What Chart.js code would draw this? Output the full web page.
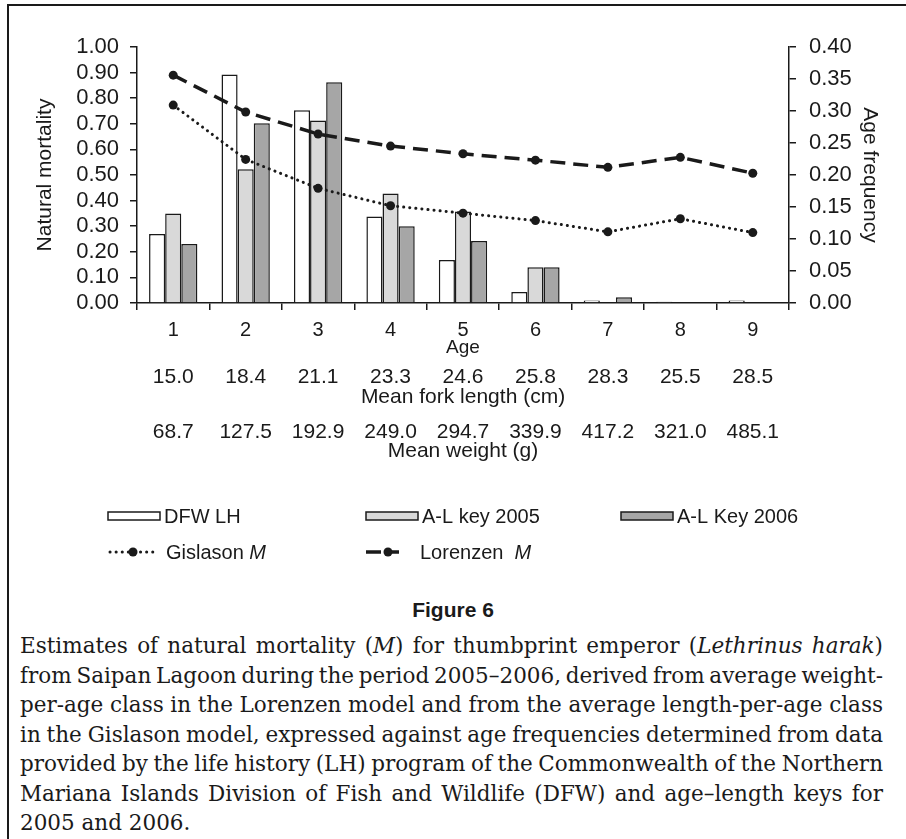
<!DOCTYPE html>
<html>
<head>
<meta charset="utf-8">
<title>Natural mortality and age frequency</title>
<script src="https://cdn.jsdelivr.net/npm/chart.js@4.4.1/dist/chart.umd.min.js"></script>
<style>
  html, body { margin: 0; padding: 0; background: #fff; }
  body { width: 906px; height: 839px; position: relative; overflow: hidden;
         font-family: "Liberation Sans", Arial, sans-serif; color: #1a1a1a; }
  #frame { position: absolute; left: 7px; top: 4px; width: 940px; height: 880px;
           border-top: 2px solid #1a1a1a; border-left: 2px solid #1a1a1a; }
  #plot { position: absolute; left: 0; top: 0; }
  #fig { position: absolute; left: 0; top: 598px; width: 906px; text-align: center;
         font: bold 21px "Liberation Sans", Arial, sans-serif; }
  #cap { position: absolute; left: 20px; top: 631px; width: 863px;
         font-family: "DejaVu Serif", serif; font-size: 21.5px; line-height: 29.5px; }
  .ln { white-space: nowrap; }
</style>
</head>
<body>
<div id="frame"></div>
<canvas id="plot" width="906" height="580"></canvas>
<div id="fig">Figure 6</div>
<div id="cap">
  <div class="ln"><span>Estimates of natural mortality (<i>M</i>) for thumbprint emperor (<i>Lethrinus harak</i>)</span></div>
  <div class="ln"><span>from Saipan Lagoon during the period 2005–2006, derived from average weight-</span></div>
  <div class="ln"><span>per-age class in the Lorenzen model and from the average length-per-age class</span></div>
  <div class="ln"><span>in the Gislason model, expressed against age frequencies determined from data</span></div>
  <div class="ln"><span>provided by the life history (LH) program of the Commonwealth of the Northern</span></div>
  <div class="ln"><span>Mariana Islands Division of Fish and Wildlife (DFW) and age–length keys for</span></div>
  <div class="ln last"><span>2005 and 2006.</span></div>
</div>
<script>
// Age classes and per-age statistics
const ages = ['1', '2', '3', '4', '5', '6', '7', '8', '9'];
const forkLength = ['15.0', '18.4', '21.1', '23.3', '24.6', '25.8', '28.3', '25.5', '28.5'];
const meanWeight = ['68.7', '127.5', '192.9', '249.0', '294.7', '339.9', '417.2', '321.0', '485.1'];

// Age frequencies (right axis)
const dfwLH     = [0.108, 0.357, 0.301, 0.135, 0.067, 0.017, 0.004, 0.002, 0.004];
const alKey2005 = [0.140, 0.209, 0.285, 0.171, 0.143, 0.056, null, null, null];
const alKey2006 = [0.092, 0.281, 0.345, 0.120, 0.097, 0.056, 0.009, null, null];

// Natural mortality estimates (left axis)
const gislasonM = [0.773, 0.561, 0.448, 0.380, 0.351, 0.322, 0.278, 0.329, 0.275];
const lorenzenM = [0.890, 0.746, 0.660, 0.613, 0.583, 0.558, 0.530, 0.569, 0.507];

// Axis tick values
const mortalityTicks = [0, 0.1, 0.2, 0.3, 0.4, 0.5, 0.6, 0.7, 0.8, 0.9, 1.0];
const frequencyTicks = [0, 0.05, 0.1, 0.15, 0.2, 0.25, 0.3, 0.35, 0.4];

const INK = '#1a1a1a';
const FONT = '"Liberation Sans", Arial, sans-serif';
Chart.defaults.font.family = FONT;
Chart.defaults.color = INK;

const PLOT_BOTTOM = 303;
const CANVAS_H = 580;

// Extra text rows under the age axis
const extraRows = {
  id: 'extraRows',
  afterDraw(chart) {
    const ctx = chart.ctx, xs = chart.scales.x;
    const mid = (xs.left + xs.right) / 2;
    ctx.save();
    ctx.fillStyle = INK;
    ctx.textAlign = 'center';
    ctx.textBaseline = 'middle';
    ctx.font = '19px ' + FONT;
    ctx.fillText('Age', mid, 348);
    ctx.font = '21px ' + FONT;
    forkLength.forEach((t, i) => ctx.fillText(t, xs.getPixelForValue(i), 377));
    ctx.font = '21px ' + FONT;
    ctx.fillText('Mean fork length (cm)', mid, 397);
    ctx.font = '21px ' + FONT;
    meanWeight.forEach((t, i) => ctx.fillText(t, xs.getPixelForValue(i), 432));
    ctx.font = '21px ' + FONT;
    ctx.fillText('Mean weight (g)', mid, 451);
    ctx.restore();
  }
};

// Two-row legend laid out in columns
const gridLegend = {
  id: 'gridLegend',
  afterDraw(chart) {
    const ctx = chart.ctx;
    const ds = chart.data.datasets;
    const cols = [108, 366, 621];
    const rows = [516, 552];
    ctx.save();
    ctx.textBaseline = 'middle';
    ctx.textAlign = 'left';
    ctx.fillStyle = INK;

    const label = (parts, x, y) => {
      let cx = x;
      parts.forEach(p => {
        ctx.font = (p.italic ? 'italic ' : '') + '20px ' + FONT;
        ctx.fillText(p.text, cx, y);
        cx += ctx.measureText(p.text).width;
      });
    };

    // bar swatches
    [0, 1, 2].forEach((k, i) => {
      const d = ds[k];
      const x = cols[i], y = rows[0];
      ctx.fillStyle = d.backgroundColor;
      ctx.fillRect(x, y - 4, 52, 8);
      ctx.strokeStyle = INK;
      ctx.lineWidth = 1.5;
      ctx.strokeRect(x, y - 4, 52, 8);
      ctx.fillStyle = INK;
      label([{ text: d.label }], x + 56, y + 1);
    });

    // line swatches
    const lineSwatch = (d, x, y, w, mx) => {
      ctx.strokeStyle = INK;
      ctx.lineWidth = d.borderWidth;
      ctx.lineCap = d.borderCapStyle || 'butt';
      ctx.setLineDash(d.borderDash);
      ctx.beginPath();
      ctx.moveTo(x, y);
      ctx.lineTo(x + w, y);
      ctx.stroke();
      ctx.setLineDash([]);
      ctx.beginPath();
      ctx.arc(mx, y, 4.5, 0, Math.PI * 2);
      ctx.fillStyle = INK;
      ctx.fill();
    };
    lineSwatch(ds[3], 110, rows[1], 48, 133);
    label([{ text: 'Gislason ' }, { text: 'M', italic: true }], 166, rows[1] + 1);
    lineSwatch(ds[4], 366, rows[1], 33, 388);
    label([{ text: 'Lorenzen  ' }, { text: 'M', italic: true }], 420, rows[1] + 1);
    ctx.restore();
  }
};

const barStyle = { borderColor: INK, borderWidth: 1.5, borderSkipped: 'start',
                   yAxisID: 'y1', order: 2, categoryPercentage: 0.667, barPercentage: 1.0 };

new Chart(document.getElementById('plot'), {
  type: 'bar',
  data: {
    labels: ages,
    datasets: [
      Object.assign({ label: 'DFW LH', data: dfwLH, backgroundColor: '#ffffff' }, barStyle),
      Object.assign({ label: 'A-L key 2005', data: alKey2005, backgroundColor: '#d9d9d9' }, barStyle),
      Object.assign({ label: 'A-L Key 2006', data: alKey2006, backgroundColor: '#a6a6a6' }, barStyle),
      { type: 'line', label: 'Gislason M', data: gislasonM, yAxisID: 'y', order: 1,
        borderColor: INK, borderWidth: 3, borderDash: [0.1, 6], borderCapStyle: 'round',
        pointRadius: 4.5, pointBackgroundColor: INK, pointBorderColor: INK, pointBorderWidth: 0,
        fill: false, tension: 0 },
      { type: 'line', label: 'Lorenzen M', data: lorenzenM, yAxisID: 'y', order: 0,
        borderColor: INK, borderWidth: 3.5, borderDash: [15, 8], borderCapStyle: 'butt',
        pointRadius: 4.5, pointBackgroundColor: INK, pointBorderColor: INK, pointBorderWidth: 0,
        fill: false, tension: 0 }
    ]
  },
  options: {
    responsive: false,
    animation: false,
    events: [],
    layout: { padding: { top: 47, left: 33, right: 24, bottom: 0 } },
    plugins: { legend: { display: false }, tooltip: { enabled: false }, title: { display: false } },
    scales: {
      x: {
        offset: true,
        grid: { offset: true, drawOnChartArea: false, drawTicks: true, tickLength: 7,
                color: INK, lineWidth: 1.5 },
        border: { display: true, color: INK, width: 1.5 },
        ticks: { font: { size: 20 }, color: INK, padding: 8, maxRotation: 0, autoSkip: false },
        afterFit(s) { s.height = CANVAS_H - PLOT_BOTTOM; }
      },
      y: {
        position: 'left',
        min: 0, max: 1,
        afterBuildTicks(s) { s.ticks = mortalityTicks.map(v => ({ value: v })); },
        grid: { drawOnChartArea: false, drawTicks: true, tickLength: 7, color: INK, lineWidth: 1.5 },
        border: { display: true, color: INK, width: 1.5 },
        ticks: { font: { size: 22 }, color: INK, padding: 11, autoSkip: false,
                 callback: v => Number(v).toFixed(2) },
        title: { display: true, text: 'Natural mortality', font: { size: 21 }, color: INK,
                 padding: { top: 0, bottom: 0 } },
        afterFit(s) { s.width = 104; }
      },
      y1: {
        position: 'right',
        min: 0, max: 0.4,
        afterBuildTicks(s) { s.ticks = frequencyTicks.map(v => ({ value: v })); },
        grid: { drawOnChartArea: false, drawTicks: true, tickLength: 7, color: INK, lineWidth: 1.5 },
        border: { display: true, color: INK, width: 1.5 },
        ticks: { font: { size: 22 }, color: INK, padding: 13, autoSkip: false,
                 callback: v => Number(v).toFixed(2) },
        title: { display: true, text: 'Age frequency', font: { size: 21 }, color: INK,
                 padding: { top: 0, bottom: 0 } },
        afterFit(s) { s.width = 93; }
      }
    }
  },
  plugins: [extraRows, gridLegend]
});

// Full justification of each caption line
(function justify() {
  const target = 863;
  document.querySelectorAll('#cap .ln').forEach(line => {
    if (line.classList.contains('last')) return;
    const span = line.firstElementChild;
    const spaces = (span.textContent.match(/ /g) || []).length;
    const w = span.getBoundingClientRect().width;
    if (spaces) span.style.wordSpacing = ((target - w) / spaces) + 'px';
  });
})();
</script>
</body>
</html>
